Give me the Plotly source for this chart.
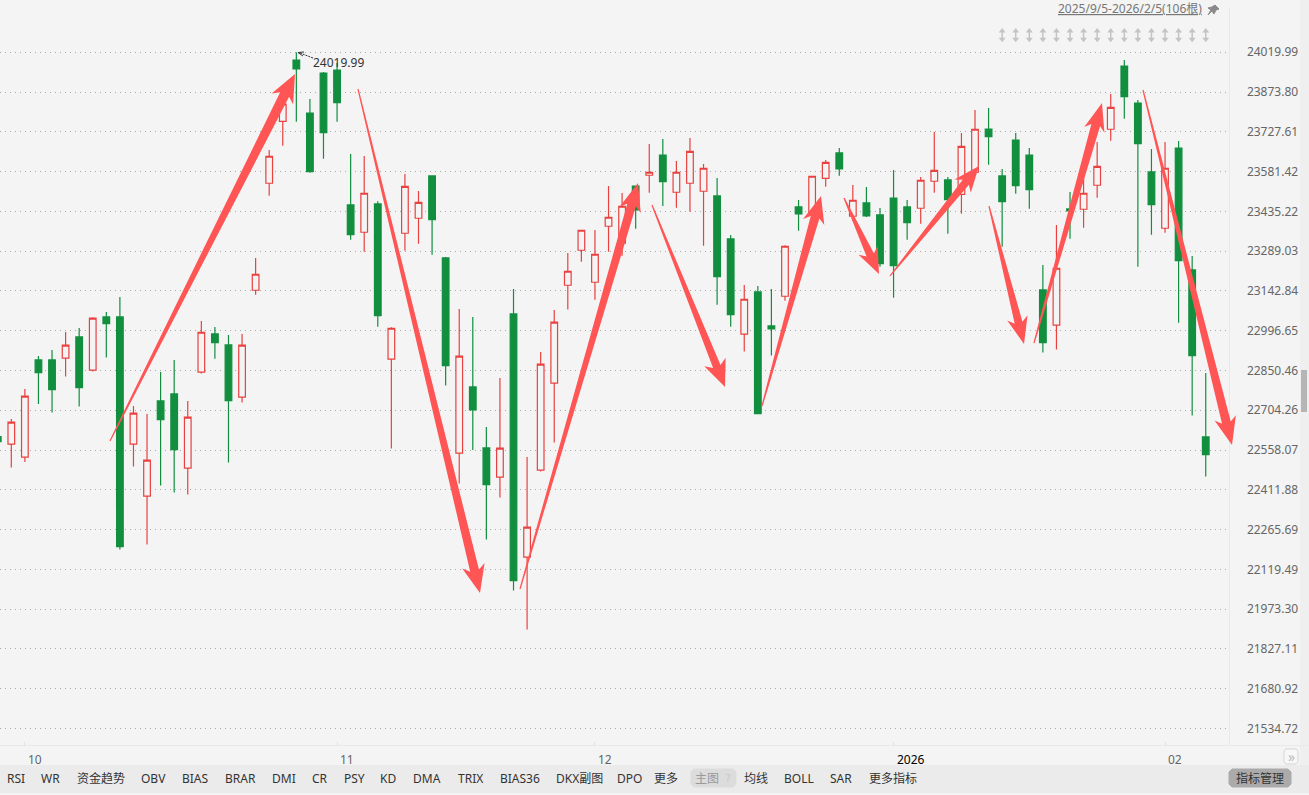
import plotly.graph_objs as go

W, H = 1309, 795
BG = "#F4F4F4"
UP = "#E8413F"
DOWN = "#118F3F"
ARROW = "#FF5555"

dates = [
    "2025-09-29", "2025-09-30",
    "2025-10-01", "2025-10-02", "2025-10-03", "2025-10-06", "2025-10-07", "2025-10-08", "2025-10-09", "2025-10-10",
    "2025-10-13", "2025-10-14", "2025-10-15", "2025-10-16", "2025-10-17", "2025-10-20", "2025-10-21", "2025-10-22",
    "2025-10-23", "2025-10-24", "2025-10-27", "2025-10-28", "2025-10-29", "2025-10-30", "2025-10-31",
    "2025-11-03", "2025-11-04", "2025-11-05", "2025-11-06", "2025-11-07", "2025-11-10", "2025-11-11", "2025-11-12",
    "2025-11-13", "2025-11-14", "2025-11-17", "2025-11-18", "2025-11-19", "2025-11-20", "2025-11-21", "2025-11-24",
    "2025-11-25", "2025-11-26", "2025-11-28",
    "2025-12-01", "2025-12-02", "2025-12-03", "2025-12-04", "2025-12-05", "2025-12-08", "2025-12-09", "2025-12-10",
    "2025-12-11", "2025-12-12", "2025-12-15", "2025-12-16", "2025-12-17", "2025-12-18", "2025-12-19", "2025-12-22",
    "2025-12-23", "2025-12-24", "2025-12-26", "2025-12-29", "2025-12-30", "2025-12-31",
    "2026-01-02", "2026-01-05", "2026-01-06", "2026-01-07", "2026-01-08", "2026-01-09", "2026-01-12", "2026-01-13",
    "2026-01-14", "2026-01-15", "2026-01-16", "2026-01-20", "2026-01-21", "2026-01-22", "2026-01-23", "2026-01-26",
    "2026-01-27", "2026-01-28", "2026-01-29", "2026-01-30",
    "2026-02-02", "2026-02-03", "2026-02-04", "2026-02-05",
]

opens = [
    22607.6, 22579.6, 22531.9, 22889.4, 22889.4, 22895.6, 22973.9, 22851.5, 23047.3, 23047.3,
    22579.6, 22388.6, 22738.7, 22764.4, 22491.5, 22844.2, 22984.9, 22944.5, 22752.3, 23145.4,
    23538.6, 23766.3, 23991.6, 23796.8, 23943.8, 23954.8, 23458.8, 23358.5, 23462.5, 22892.0,
    23354.8, 23410.0, 23565.4, 23264.1, 22546.6, 22790.2, 22566.0, 22458.4, 23058.4, 22164.5,
    22484.1, 22803.8, 23163.8, 23292.4, 23174.8, 23380.6, 23318.1, 23528.6, 23568.0, 23642.5,
    23505.5, 23538.6, 23509.2, 23491.9, 23333.9, 22983.8, 23139.2, 23014.3, 23123.4, 23451.5,
    23429.4, 23556.9, 23649.9, 23417.3, 23466.2, 23422.1, 23484.5, 23451.5, 23446.7, 23545.9,
    23550.7, 23498.1, 23579.0, 23738.1, 23565.4, 23697.6, 23642.5, 23146.5, 23016.9, 23444.1,
    23443.0, 23531.2, 23737.0, 23969.5, 23833.6, 23580.1, 23373.2, 23668.2, 23220.0, 22606.5,
]
highs = [
    22625.0, 22672.6, 22782.8, 22904.1, 22926.1, 22992.2, 23006.9, 23046.2, 23065.7, 23120.8,
    22720.4, 22691.0, 22845.3, 22889.4, 22738.7, 23032.6, 23010.6, 22981.2, 22984.9, 23264.1,
    23660.9, 23874.0, 24019.99, 23848.3, 23947.5, 23980.5, 23646.2, 23638.9, 23472.4, 23009.5,
    23572.7, 23510.3, 23565.4, 23267.8, 23076.7, 23047.3, 22643.2, 22823.2, 23150.2, 22533.0,
    22918.8, 23073.1, 23282.5, 23367.0, 23367.0, 23528.6, 23502.9, 23528.6, 23682.9, 23701.3,
    23620.5, 23705.0, 23609.5, 23558.0, 23348.6, 23164.9, 23161.2, 23150.2, 23310.8, 23477.2,
    23565.4, 23624.2, 23668.2, 23532.3, 23525.0, 23447.8, 23587.4, 23477.2, 23561.7, 23727.0,
    23561.7, 23723.4, 23807.9, 23815.2, 23591.1, 23723.4, 23668.2, 23238.4, 23385.3, 23506.6,
    23569.0, 23690.3, 23866.6, 23991.6, 23844.6, 23664.6, 23690.3, 23694.0, 23271.5, 22841.6,
]
lows = [
    22577.0, 22493.7, 22514.6, 22727.7, 22695.7, 22828.0, 22717.8, 22846.4, 22897.8, 22192.4,
    22497.3, 22210.8, 22427.5, 22401.8, 22394.5, 22839.0, 22894.1, 22512.1, 22732.5, 23129.3,
    23493.0, 23676.7, 23764.9, 23577.5, 23628.9, 23764.9, 23331.3, 23287.3, 23011.7, 22563.5,
    23290.9, 23316.6, 23276.2, 22795.0, 22434.9, 22558.7, 22229.1, 22383.4, 22041.8, 21898.5,
    22479.0, 22585.5, 23074.2, 23250.5, 23110.9, 23287.3, 23272.6, 23371.8, 23504.0, 23455.2,
    23448.9, 23434.2, 23309.3, 23092.5, 23011.7, 22919.9, 22691.0, 22905.2, 23107.2, 23364.4,
    23411.1, 23526.1, 23566.5, 23400.0, 23414.7, 23232.1, 23118.2, 23331.3, 23390.1, 23504.0,
    23353.4, 23426.9, 23569.0, 23606.9, 23305.6, 23500.3, 23445.2, 22916.2, 22927.2, 23335.0,
    23375.4, 23485.7, 23695.1, 23775.9, 23232.1, 23349.7, 23357.1, 23026.4, 22684.7, 22460.6,
]
closes = [
    22589.0, 22660.5, 22756.0, 22842.7, 22780.2, 22943.4, 22787.6, 23042.6, 23022.7, 22203.4,
    22693.5, 22520.9, 22670.0, 22559.8, 22678.8, 22991.1, 22952.9, 22739.8, 22943.4, 23204.2,
    23637.8, 23829.9, 23958.5, 23581.2, 23724.5, 23834.7, 23349.7, 23501.8, 23052.1, 23005.8,
    23527.5, 23468.7, 23404.8, 22868.4, 22903.0, 22705.7, 22431.2, 22565.0, 22078.5, 22274.7,
    22873.6, 23027.9, 23215.2, 23365.9, 23277.7, 23413.6, 23454.1, 23440.5, 23579.0, 23544.4,
    23579.0, 23656.1, 23593.7, 23195.4, 23055.8, 23112.4, 22692.1, 23003.3, 23307.1, 23425.8,
    23564.3, 23615.7, 23591.1, 23476.1, 23418.4, 23243.2, 23235.8, 23393.8, 23549.6, 23586.3,
    23478.3, 23674.5, 23737.0, 23709.8, 23471.0, 23529.7, 23515.0, 22952.9, 23226.3, 23436.8,
    23501.8, 23601.0, 23817.8, 23856.7, 23684.0, 23459.9, 23593.7, 23254.2, 22905.2, 22541.4,
]

price_ticks = [
    24019.99, 23873.80, 23727.61, 23581.42, 23435.22, 23289.03, 23142.84, 22996.65, 22850.46,
    22704.26, 22558.07, 22411.88, 22265.69, 22119.49, 21973.30, 21827.11, 21680.92, 21534.72,
]
month_dates = ["2025-10-01", "2025-11-03", "2025-12-01", "2026-01-02", "2026-02-02"]
month_labels = ["10", "11", "12", "2026", "02"]
toolbar_labels = [
    "RSI", "WR", "资金趋势", "OBV", "BIAS", "BRAR", "DMI", "CR", "PSY", "KD", "DMA", "TRIX",
    "BIAS36", "DKX副图", "DPO", "更多", "主图", "均线", "BOLL", "SAR", "更多指标",
]
toolbar_x = [5, 39, 75, 139, 180, 223, 270, 310, 342, 378, 411, 456, 498, 554, 615, 652, 693, 742, 782, 828, 867]

# hand drawn arrows from the picture: tail, tip (screen pixels), shaft width, head width, head length
arrows = [
    ((110, 441), (295, 74), 10, 24, 28),
    ((358, 89), (480, 593), 9, 23, 28),
    ((520, 589), (638, 183), 9, 22, 28),
    ((652, 205), (725, 387), 8, 23, 27),
    ((762, 406), (821, 196), 9, 22, 27),
    ((844, 198), (879, 274), 8, 21, 26),
    ((890, 276), (979, 166), 8, 21, 26),
    ((989, 206), (1024, 344), 8, 21, 27),
    ((1034, 343), (1102, 103), 9, 21, 28),
    ((1143, 90), (1232, 445), 9, 22, 28),
]


def px(x):
    return x / W


def py(y):
    return 1 - y / H


def poly(points):
    return "M " + " L ".join(f"{px(x):.5f} {py(y):.5f}" for x, y in points) + " Z"


def arrow_path(tail, tip, shaft, head, length):
    dx, dy = tip[0] - tail[0], tip[1] - tail[1]
    size = (dx * dx + dy * dy) ** 0.5
    ux, uy = dx / size, dy / size
    nx, ny = -uy, ux
    bx, by = tip[0] - ux * length, tip[1] - uy * length
    nbx, nby = tip[0] - ux * (length - 5), tip[1] - uy * (length - 5)
    return poly([
        (tail[0] + nx * 0.6, tail[1] + ny * 0.6),
        (nbx + nx * shaft / 2, nby + ny * shaft / 2),
        (bx + nx * head / 2, by + ny * head / 2),
        tip,
        (bx - nx * head / 2, by - ny * head / 2),
        (nbx - nx * shaft / 2, nby - ny * shaft / 2),
        (tail[0] - nx * 0.6, tail[1] - ny * 0.6),
    ])


def rect(x0, y0, x1, y1, fill, line=None, layer="below", radius=0):
    if radius:
        return dict(type="path", xref="paper", yref="paper", layer=layer, fillcolor=fill,
                    line=dict(color=line or fill, width=1),
                    path=poly([(x0 + radius, y0), (x1 - radius, y0), (x1, y0 + radius), (x1, y1 - radius),
                               (x1 - radius, y1), (x0 + radius, y1), (x0, y1 - radius), (x0, y0 + radius)]))
    return dict(type="rect", xref="paper", yref="paper", layer=layer, fillcolor=fill,
                line=dict(color=line or fill, width=1 if line else 0),
                x0=px(x0), x1=px(x1), y0=py(y0), y1=py(y1))


fig = go.Figure()
fig.add_trace(go.Candlestick(
    x=dates, open=opens, high=highs, low=lows, close=closes,
    whiskerwidth=0,
    increasing=dict(line=dict(color=UP, width=1.2), fillcolor=BG),
    decreasing=dict(line=dict(color=DOWN, width=1.2), fillcolor=DOWN),
    showlegend=False, hoverinfo="skip",
))
# the little up/down markers above the last bars
for symbol, level, size in [("triangle-up", 24098, 6), ("triangle-down", 24068, 6), ("line-ns", 24083, 7)]:
    fig.add_trace(go.Scatter(
        x=dates[-16:], y=[level] * 16, mode="markers",
        marker=dict(symbol=symbol, size=size, color="#C4C4C4", line=dict(color="#C4C4C4", width=1.5 if symbol == "line-ns" else 0)),
        showlegend=False, hoverinfo="skip",
    ))

shapes = [
    rect(0, 765, 1309, 793, "#EBEBEB"),
    rect(1300, 0, 1309, 765, "#EFEFEF"),
    rect(1301, 370, 1307, 412, "#B5B5B5"),
    rect(691, 769, 736, 787, "#DCDCDC", radius=3),
    rect(1229, 769, 1291, 787, "#ABABAB", radius=3),
    rect(1284, 749, 1298, 764, "#F7F7F7", line="#D5D5D5", radius=2),
    dict(type="line", xref="paper", yref="paper", x0=px(1229.5), x1=px(1229.5), y0=py(8), y1=py(745.5),
         line=dict(color="#E9E9E9", width=1), layer="below"),
    dict(type="line", xref="paper", yref="paper", x0=0, x1=1, y0=py(745.5), y1=py(745.5),
         line=dict(color="#E9E9E9", width=1), layer="below"),
    # pointer to the high
    dict(type="line", xref="paper", yref="paper", x0=px(313), x1=px(300), y0=py(58), y1=py(53),
         line=dict(color="#333333", width=1, dash="2px 1px")),
    dict(type="path", xref="paper", yref="paper", line=dict(color="#333333", width=1),
         path=f"M {px(304):.5f} {py(52):.5f} L {px(298):.5f} {py(52.5):.5f} L {px(303):.5f} {py(56):.5f}"),
    # pin icon
    dict(type="path", xref="paper", yref="paper", fillcolor="#8A8A8A", line=dict(color="#8A8A8A", width=1),
         path=poly([(1215, 5), (1219, 9), (1216, 10), (1214, 14), (1212, 11), (1208, 15), (1211, 10), (1208, 8), (1212, 7)])),
]
for tail, tip, shaft, head, length in arrows:
    shapes.append(dict(type="path", xref="paper", yref="paper", path=arrow_path(tail, tip, shaft, head, length),
                       fillcolor=ARROW, line=dict(width=0), layer="above"))

notes = [
    dict(text="24019.99", xref="paper", yref="paper", x=px(311), y=py(62.5), xanchor="left", yanchor="middle",
         showarrow=False, font=dict(size=12, color="#333333")),
    dict(text="<u>2025/9/5-2026/2/5(106根)</u>", xref="paper", yref="paper", x=px(1204), y=py(9), xanchor="right",
         yanchor="middle", showarrow=False, font=dict(size=12, color="#777777")),
    dict(text="指标管理", xref="paper", yref="paper", x=px(1260), y=py(778), xanchor="center", yanchor="middle",
         showarrow=False, font=dict(size=12, color="#333333")),
    dict(text="?", xref="paper", yref="paper", x=px(728), y=py(778), xanchor="center", yanchor="middle",
         showarrow=False, font=dict(size=10, color="#C4C4C4")),
    dict(text="»", xref="paper", yref="paper", x=px(1291), y=py(756), xanchor="center", yanchor="middle",
         showarrow=False, font=dict(size=14, color="#BBBBBB")),
]
for label, x in zip(toolbar_labels, toolbar_x):
    notes.append(dict(text=label, xref="paper", yref="paper", x=px(x), y=py(778), xanchor="left", yanchor="middle",
                      showarrow=False, font=dict(size=12, color="#999999" if label == "主图" else "#333333")))
for d, label in zip(month_dates, month_labels):
    notes.append(dict(text=label, x=d, xref="x", yref="paper", y=py(759), xanchor="left", yanchor="middle",
                      xshift=1, showarrow=False,
                      font=dict(size=12, color="#000000" if label == "2026" else "#666666")))

fig.update_layout(
    width=W, height=H,
    margin=dict(l=0, r=0, t=0, b=0),
    paper_bgcolor=BG, plot_bgcolor=BG,
    font=dict(family="Noto Sans, Noto Sans CJK SC, sans-serif", size=12, color="#666666"),
    boxgap=0.3,
    shapes=shapes,
    annotations=notes,
    xaxis=dict(
        type="category", categoryorder="array", categoryarray=dates,
        domain=[0, 1229.5 / W], anchor="y", range=[0.167, 90.75],
        rangeslider=dict(visible=False), showgrid=False, zeroline=False,
        tickvals=month_dates, ticktext=[""] * 5, ticks="inside", ticklen=4, tickcolor="#E3E3E3",
        showticklabels=False, showline=False,
    ),
    yaxis=dict(
        side="right", anchor="x", domain=[1 - 745.5 / H, 1],
        range=[21472.3, 24212.1], tickvals=price_ticks, ticktext=[f"{v:.2f}" for v in price_ticks],
        showgrid=True, gridcolor="#A8A8A8", griddash="1px 4px", gridwidth=1, zeroline=False,
        ticks="outside", ticklen=14, tickcolor="rgba(0,0,0,0)", showline=False,
        tickfont=dict(size=12, color="#666666"),
    ),
)

fig.write_html("out.html", config=dict(displayModeBar=False),
               post_script="document.body.style.margin='0';document.body.style.overflow='hidden';")
